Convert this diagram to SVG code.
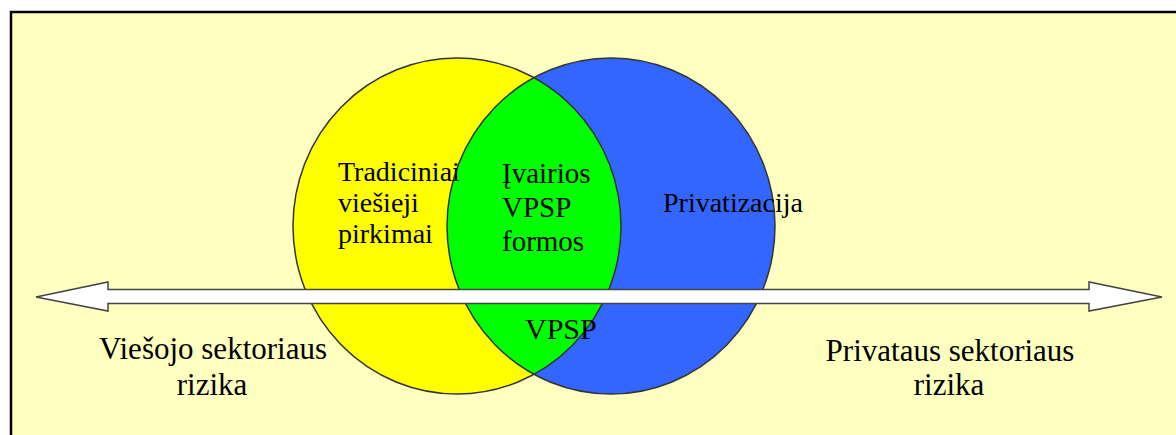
<svg xmlns="http://www.w3.org/2000/svg" width="1176" height="435" viewBox="0 0 1176 435">
<style>
.t{font-family:"Liberation Serif","Times New Roman",serif;fill:#000}
.ring{fill:none;stroke:#333;stroke-width:1.5}
</style>
<defs>
<clipPath id="clipY"><ellipse cx="457" cy="226" rx="164" ry="168"/></clipPath>
</defs>
<rect x="0" y="0" width="1176" height="435" fill="#fff"/>
<rect x="11" y="12" width="1170" height="430" fill="#FFFFC0" stroke="#000" stroke-width="2.5"/>
<g id="public">
<ellipse cx="457" cy="226" rx="164" ry="168" fill="#FFFF00"/>
</g>
<g id="private">
<ellipse cx="611" cy="226" rx="164" ry="168" fill="#3366FF"/>
</g>
<g id="overlap">
<ellipse cx="611" cy="226" rx="164" ry="168" fill="#00FF00" clip-path="url(#clipY)"/>
</g>
<ellipse class="ring" cx="457" cy="226" rx="164" ry="168"/>
<ellipse class="ring" cx="611" cy="226" rx="164" ry="168"/>
<g id="connectors">
<polygon points="36,297 108,282 108,289.5 1089,289.5 1089,282 1162,297 1089,311 1089,303.5 108,303.5 108,311" fill="#fff" stroke="#444" stroke-width="1.5" stroke-linejoin="miter"/>
</g>
<g id="label-public-proc">
<text class="t" font-size="28"><tspan x="338" y="181">Tradiciniai</tspan><tspan x="338" y="212">viešieji</tspan><tspan x="338" y="243">pirkimai</tspan></text>
</g>
<g id="label-forms">
<text class="t" font-size="29"><tspan x="502" y="183">Įvairios</tspan><tspan x="502" y="217">VPSP</tspan><tspan x="502" y="251">formos</tspan></text>
</g>
<g id="label-privatization">
<text class="t" font-size="28" x="663" y="212">Privatizacija</text>
</g>
<g id="label-vpsp">
<text class="t" font-size="30" x="525" y="339">VPSP</text>
</g>
<g id="label-public-risk">
<text class="t" font-size="31" text-anchor="middle"><tspan x="213" y="359">Viešojo sektoriaus</tspan><tspan x="212" y="395">rizika</tspan></text>
</g>
<g id="label-private-risk">
<text class="t" font-size="31" text-anchor="middle"><tspan x="950" y="361">Privataus sektoriaus</tspan><tspan x="949" y="395">rizika</tspan></text>
</g>
</svg>
